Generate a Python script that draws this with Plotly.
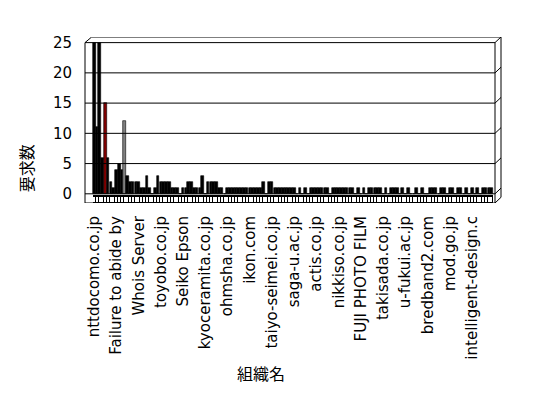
import plotly.graph_objects as go

# ---- data ----
n_categories = 144
tick_positions = [0, 8, 16, 24, 32, 40, 48, 56, 64, 72, 80, 88, 96, 104, 112, 120, 128, 136]
tick_labels = ["nttdocomo.co.jp", "Failure to abide by", "Whois Server", "toyobo.co.jp",
               "Seiko Epson", "kyoceramita.co.jp", "ohmsha.co.jp", "ikon.com",
               "taiyo-seimei.co.jp", "saga-u.ac.jp", "actis.co.jp", "nikkiso.co.jp",
               "FUJI PHOTO FILM", "takisada.co.jp", "u-fukui.ac.jp", "bredband2.com",
               "mod.go.jp", "intelligent-design.c"]

requests = [1] * n_categories
requests[0:20] = [25, 11, 25, 6, 15, 6, 2, 1, 4, 5, 4, 12, 3, 2, 2, 2, 2, 1, 1, 3]
requests[20:48] = [1, 0, 1, 3, 2, 2, 2, 2, 1, 1, 1, 0, 1, 1, 2, 2, 1, 1, 1, 3,
                   0, 2, 2, 2, 2, 1, 1, 0]
requests[61:65] = [2, 0, 2, 2]
for i in [73, 75, 77, 85, 94, 96, 98, 104, 106, 110, 112, 114, 115, 117, 119, 120,
          124, 127, 130, 133, 135, 137, 139]:
    requests[i] = 0

x_idx = list(range(n_categories))

# ---- styling ----
highlight = {4: "#800000", 11: "#808080"}
bar_colors = [highlight.get(i, "black") for i in x_idx]

y_lo, y_hi = -1.52, 25.93
x_front_right = (495 - 85) / 416
depth_dy = 0.94
font_lat = "DejaVu Sans"
font_cjk = "Noto Sans CJK JP"

fig = go.Figure()

# floor strip (decorative depth row)
fig.add_trace(go.Bar(x=x_idx, y=[1.3] * n_categories, base=y_lo, width=1.0,
                     marker=dict(color="black", line=dict(width=0)),
                     hoverinfo="skip", showlegend=False))
fig.add_trace(go.Bar(x=x_idx, y=[0.95] * n_categories, base=-1.4, width=0.5,
                     marker=dict(color="white", line=dict(width=0)),
                     hoverinfo="skip", showlegend=False))
# main bars
fig.add_trace(go.Bar(x=x_idx, y=requests, base=0, width=0.95,
                     marker=dict(color=bar_colors, line=dict(color="black", width=0.6)),
                     showlegend=False))

shapes = []
def line(x0, y0, x1, y1):
    shapes.append(dict(type="line", xref="paper", yref="y", x0=x0, y0=y0, x1=x1, y1=y1,
                       line=dict(color="black", width=1), layer="above"))

for v in [0, 5, 10, 15, 20, 25]:
    line(0, v, x_front_right, v)
    line(x_front_right, v, 1, v + depth_dy)
line(0, y_lo, 0, 25)
line(0, 25, 0.016, y_hi)
line(0.016, y_hi, 1, y_hi)
line(x_front_right, y_lo, x_front_right, 25)
line(1, y_lo + depth_dy, 1, y_hi)
line(0, y_lo, x_front_right, y_lo)
line(x_front_right, y_lo, 1, y_lo + depth_dy)

fig.update_layout(
    width=548, height=398,
    margin=dict(l=77, r=55, t=29, b=203, autoexpand=False),
    paper_bgcolor="white", plot_bgcolor="white",
    barmode="overlay", bargap=0,
    shapes=shapes,
    font=dict(family=font_lat, size=13, color="black"),
    xaxis=dict(range=[-3.31, 146.35], tickmode="array", tickvals=tick_positions,
               ticktext=tick_labels, tickangle=-90, showgrid=False, zeroline=False,
               showline=False, ticks="", ticklabelstandoff=9, automargin=False,
               tickfont=dict(family=font_lat, size=15, color="black")),
    yaxis=dict(range=[y_lo, y_hi], tickmode="array", tickvals=[0, 5, 10, 15, 20, 25],
               showgrid=False, zeroline=False, showline=False, ticks="",
               ticklabelstandoff=12, automargin=False,
               tickfont=dict(family=font_lat, size=15, color="black")),
    annotations=[
        dict(text="組織名", xref="paper", yref="paper", x=0.423, y=-1.026,
             showarrow=False, font=dict(family=font_cjk, size=16, color="black"),
             xanchor="center", yanchor="middle"),
        dict(text="要求数", xref="paper", yref="paper", x=-0.142, y=0.209,
             showarrow=False, textangle=-90,
             font=dict(family=font_cjk, size=16, color="black"),
             xanchor="center", yanchor="middle"),
    ],
)

fig.write_html("out.html")
